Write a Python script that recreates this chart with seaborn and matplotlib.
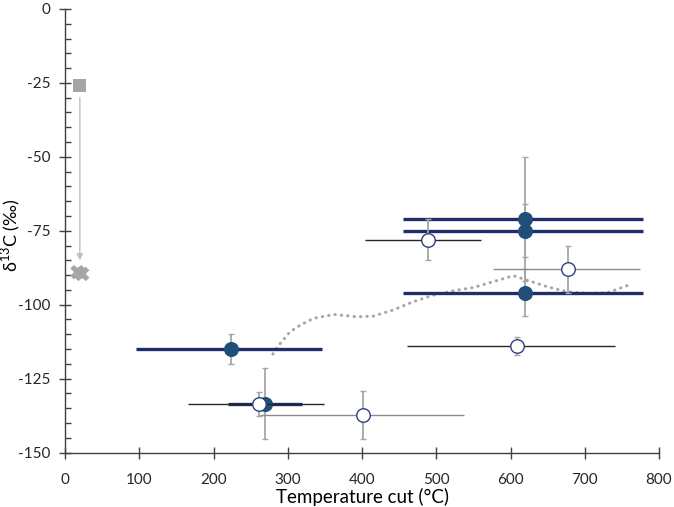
import numpy as np
import pandas as pd
import seaborn as sns
import matplotlib.pyplot as plt
from matplotlib.ticker import MultipleLocator

# samples with a filled marker (thick navy temperature range)
filled_x = [620, 620, 620, 224, 270]
filled_y = [-71, -75, -96, -115, -133.5]
filled_yerr = [21, 9, 8, 5, 12]
filled_tlo = [455, 455, 455, 96, 219]
filled_thi = [779, 779, 779, 346, 319]

# samples with an open marker (thin temperature range)
open_x = [489, 677, 609, 261, 401]
open_y = [-78, -88, -114, -133.5, -137.3]
open_yerr = [7, 8, 3, 4, 8]
open_tlo = [404, 576, 460, 165, 262]
open_thi = [560, 774, 741, 349, 538]
open_bar_colors = ['#262626', '#8C8C8C', '#262626', '#262626', '#8C8C8C']

# source value and shifted values near 20 °C
source_x = [20]
source_y = [-26]
shifted_x = [17, 23]
shifted_y = [-89, -89.6]

# dotted trend
curve_x = [280, 290, 303, 317, 335, 362, 393, 415, 442, 469, 496, 523, 550,
           577, 604, 622, 649, 676, 703, 730, 759]
curve_y = [-116.7, -113.1, -109.2, -106.9, -104.6, -103.3, -104.1, -103.9,
           -101.8, -99.0, -96.8, -95.3, -94.2, -92.2, -90.2, -91.7, -93.9,
           -95.6, -96.2, -96.0, -93.4]

sns.set_theme(style="white")
plt.rcParams['font.family'] = ['Lato', 'DejaVu Sans']
plt.rcParams['axes.unicode_minus'] = False
plt.rcParams['mathtext.fontset'] = 'custom'
plt.rcParams['mathtext.rm'] = 'Lato'

navy = '#1F4E79'
bar_navy = '#1F2D6B'
err_gray = '#A6A6A6'
text_col = '#262626'

fig = plt.figure(figsize=(6.74, 5.07), dpi=100)
ax = fig.add_axes([65 / 674, 1 - 452.5 / 507, 594 / 674, 443.5 / 507])

filled = pd.DataFrame({'x': filled_x, 'y': filled_y})
opened = pd.DataFrame({'x': open_x, 'y': open_y})

# trend curve
sns.lineplot(x=curve_x, y=curve_y, sort=False, ax=ax, color=err_gray,
             lw=2.2, linestyle=(0, (0.1, 2.0)), dash_capstyle='round', zorder=2)

# filled samples
ax.errorbar(filled_x, filled_y, yerr=filled_yerr, fmt='none', ecolor=err_gray,
            elinewidth=1.3, capsize=2.5, capthick=1.0, zorder=3)
ax.hlines(filled_y, filled_tlo, filled_thi, color=bar_navy, lw=2.4, zorder=3)
sns.scatterplot(data=filled, x='x', y='y', ax=ax, s=100, color=navy,
                edgecolor=navy, linewidth=0.8, zorder=4)

# open samples
ax.errorbar(open_x, open_y, yerr=open_yerr, fmt='none', ecolor=err_gray,
            elinewidth=1.3, capsize=2.5, capthick=1.0, zorder=5)
ax.hlines(open_y, open_tlo, open_thi, colors=open_bar_colors, lw=1.0, zorder=5)
sns.scatterplot(data=opened, x='x', y='y', ax=ax, s=95, color='white',
                edgecolor='#2F3F7F', linewidth=1.0, zorder=6)

# source -> shifted
sns.scatterplot(x=source_x, y=source_y, ax=ax, marker='s', s=90,
                color='#A6A6A6', edgecolor='none', zorder=4)
sns.scatterplot(x=shifted_x, y=shifted_y, ax=ax, marker='X', s=110,
                color='#A6A6A6', edgecolor='none', zorder=4)
ax.annotate('', xy=(source_x[0], -85), xytext=(source_x[0], -30),
            arrowprops=dict(arrowstyle='-|>', color='#BFBFBF', lw=1.0,
                            mutation_scale=9, shrinkA=0, shrinkB=0))

ax.set_xlim(0, 800)
ax.set_ylim(-150, 0)
ax.xaxis.set_major_locator(MultipleLocator(100))
ax.yaxis.set_major_locator(MultipleLocator(25))
ax.yaxis.set_minor_locator(MultipleLocator(5))

for side in ['top', 'right']:
    ax.spines[side].set_visible(False)
for side in ['left', 'bottom']:
    ax.spines[side].set_color('#404040')
    ax.spines[side].set_linewidth(1.0)

ax.tick_params(axis='both', which='major', direction='inout', length=9,
               width=1.0, color='#404040', labelsize=11, labelcolor=text_col)
ax.tick_params(axis='x', which='major', bottom=True, pad=10)
ax.tick_params(axis='y', which='major', left=True, pad=6)
ax.tick_params(axis='y', which='minor', direction='in', length=4,
               width=1.0, color='#404040', left=True)

ax.set_xlabel('Temperature cut (°C)', fontsize=13.5, color='black', labelpad=1)
ax.set_ylabel(r'δ$^{13}$C (‰)', fontsize=13, color='black')
ax.yaxis.set_label_coords(-42 / 594, 0.49)
ax.grid(False)

fig.savefig('out.png', dpi=100)
